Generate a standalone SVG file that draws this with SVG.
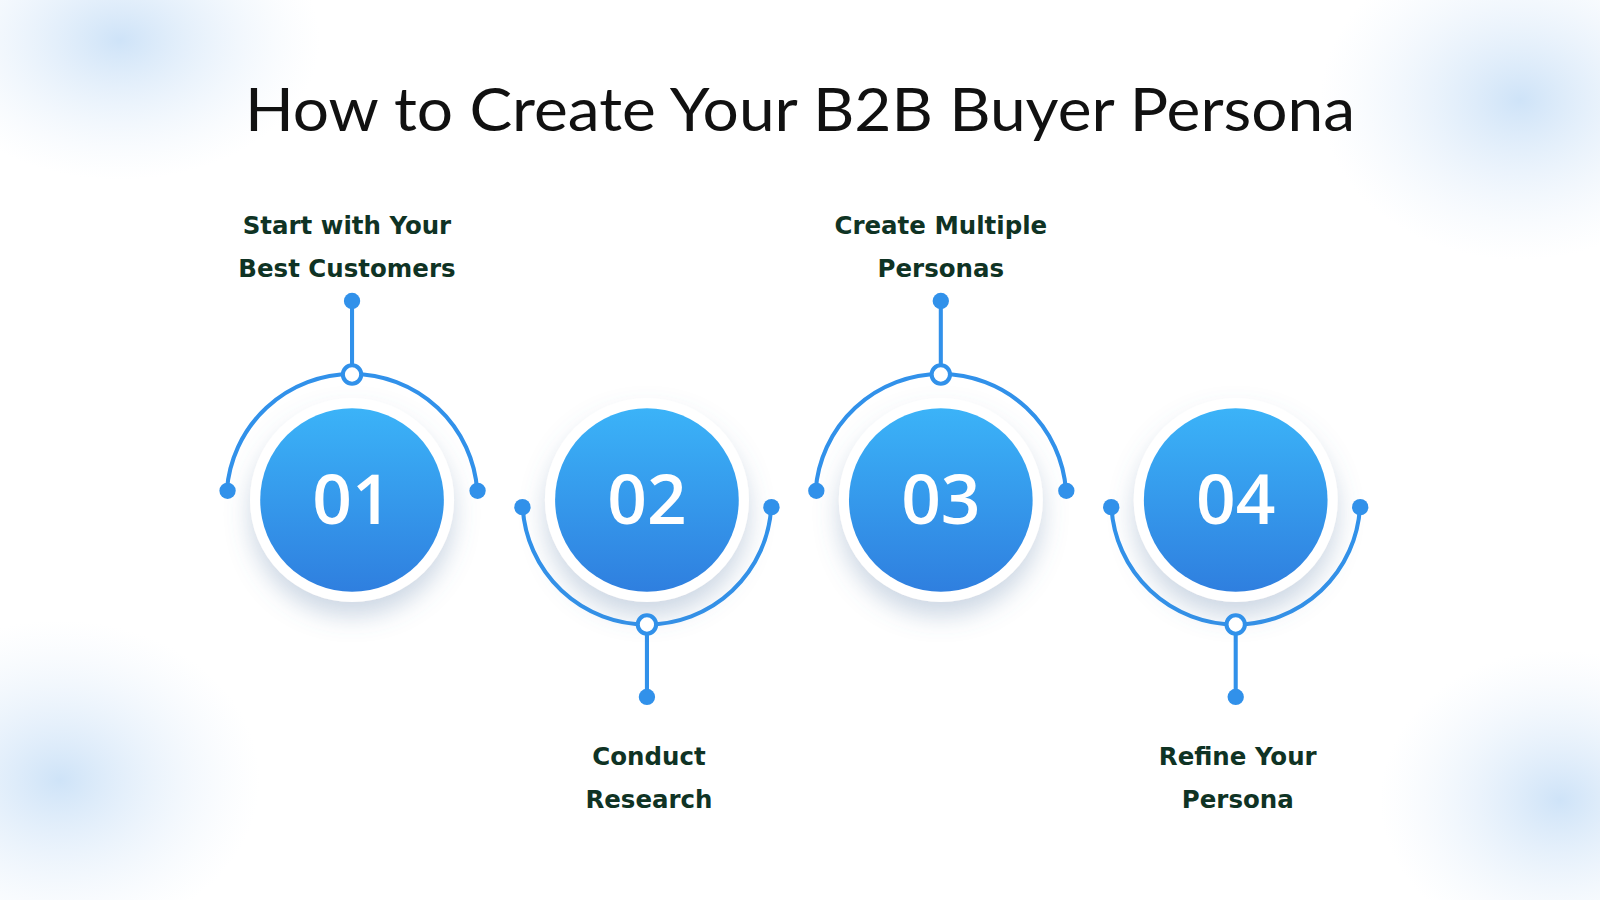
<svg xmlns="http://www.w3.org/2000/svg" width="1600" height="900" viewBox="0 0 1600 900">
<defs>
<linearGradient id="cg" x1="0" y1="0" x2="0" y2="1"><stop offset="0" stop-color="#3bb3f8"/><stop offset="1" stop-color="#2f7fdf"/></linearGradient>
<radialGradient id="blob"><stop offset="0" stop-color="#c9e0f7" stop-opacity="0.9"/><stop offset="1" stop-color="#e6f0fb" stop-opacity="0"/></radialGradient>
<filter id="sh" x="-30%" y="-30%" width="160%" height="170%"><feDropShadow dx="0" dy="14" stdDeviation="12" flood-color="#5a7fa8" flood-opacity="0.3"/></filter>
<style>
.arc{fill:none;stroke:#3191ea;stroke-width:4}
.dot{fill:#3191ea}
.ring{fill:#fff;stroke:#3191ea;stroke-width:4}
.num{font-family:"Open Sans","Liberation Sans",sans-serif;font-size:68px;font-weight:600;fill:#fff;text-anchor:middle}
.lbl{font-family:"DejaVu Sans","Liberation Sans",sans-serif;font-size:24px;font-weight:700;fill:#0f3324;text-anchor:middle}
</style>
</defs>
<rect width="1600" height="900" fill="#fff"/>
<ellipse cx="120" cy="40" rx="200" ry="140" fill="url(#blob)"/>
<ellipse cx="1520" cy="100" rx="200" ry="160" fill="url(#blob)"/>
<ellipse cx="60" cy="780" rx="200" ry="160" fill="url(#blob)"/>
<ellipse cx="1560" cy="800" rx="180" ry="150" fill="url(#blob)"/>
<g transform="scale(1.0204)">
<text x="784" y="128" font-family="Lato,'Open Sans',sans-serif" font-size="58" fill="#111" text-anchor="middle" textLength="1088" lengthAdjust="spacingAndGlyphs">How to Create Your B2B Buyer Persona</text>
<g id="connectors">
<path class="arc" d="M222.3,481 A123,123 0 0 1 467.7,481"/>
<line class="arc" x1="345" y1="295" x2="345" y2="358"/>
<path class="arc" d="M512.2,497 A122,122 0 0 0 755.8,497"/>
<line class="arc" x1="634" y1="621" x2="634" y2="683"/>
<path class="arc" d="M799.3,481 A123,123 0 0 1 1044.7,481"/>
<line class="arc" x1="922" y1="295" x2="922" y2="358"/>
<path class="arc" d="M1089.2,497 A122,122 0 0 0 1332.8,497"/>
<line class="arc" x1="1211" y1="621" x2="1211" y2="683"/>
</g>
<g id="n1">
<circle cx="345" cy="490" r="100" fill="#fff" filter="url(#sh)"/><circle cx="345" cy="490" r="90" fill="url(#cg)"/>
<text class="num" x="345" y="514">01</text>
<circle class="dot" cx="223" cy="481" r="8"/><circle class="dot" cx="468" cy="481" r="8"/><circle class="dot" cx="345" cy="295" r="8"/><circle class="ring" cx="345" cy="367" r="9"/>
<text class="lbl" x="340" y="229">Start with Your</text><text class="lbl" x="340" y="271">Best Customers</text>
</g>
<g id="n2">
<circle cx="634" cy="490" r="100" fill="#fff" filter="url(#sh)"/><circle cx="634" cy="490" r="90" fill="url(#cg)"/>
<text class="num" x="634" y="514">02</text>
<circle class="dot" cx="512" cy="497" r="8"/><circle class="dot" cx="756" cy="497" r="8"/><circle class="dot" cx="634" cy="683" r="8"/><circle class="ring" cx="634" cy="612" r="9"/>
<text class="lbl" x="636" y="750">Conduct</text><text class="lbl" x="636" y="792">Research</text>
</g>
<g id="n3">
<circle cx="922" cy="490" r="100" fill="#fff" filter="url(#sh)"/><circle cx="922" cy="490" r="90" fill="url(#cg)"/>
<text class="num" x="922" y="514">03</text>
<circle class="dot" cx="800" cy="481" r="8"/><circle class="dot" cx="1045" cy="481" r="8"/><circle class="dot" cx="922" cy="295" r="8"/><circle class="ring" cx="922" cy="367" r="9"/>
<text class="lbl" x="922" y="229">Create Multiple</text><text class="lbl" x="922" y="271">Personas</text>
</g>
<g id="n4">
<circle cx="1211" cy="490" r="100" fill="#fff" filter="url(#sh)"/><circle cx="1211" cy="490" r="90" fill="url(#cg)"/>
<text class="num" x="1211" y="514">04</text>
<circle class="dot" cx="1089" cy="497" r="8"/><circle class="dot" cx="1333" cy="497" r="8"/><circle class="dot" cx="1211" cy="683" r="8"/><circle class="ring" cx="1211" cy="612" r="9"/>
<text class="lbl" x="1213" y="750">Refine Your</text><text class="lbl" x="1213" y="792">Persona</text>
</g>
</g>
</svg>
